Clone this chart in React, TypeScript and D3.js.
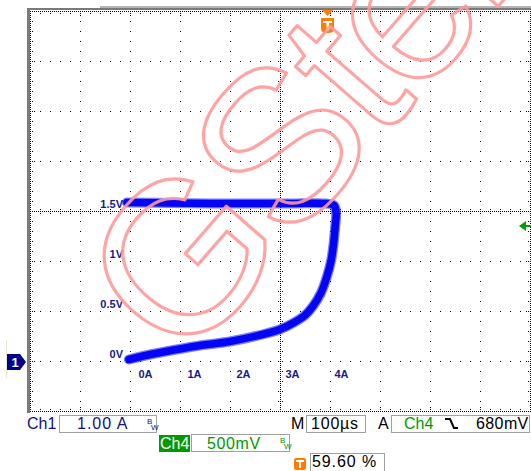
import React from "react";
import * as d3 from "d3";

// XY trace: Ch1 current (A) on X, Ch4 voltage (V) on Y
const currentA = [-0.34, -0.05, 0.36, 1.05, 1.72, 2.34, 2.74, 3.05, 3.26, 3.42, 3.58, 3.70, 3.79, 3.84, 3.87, 3.89, 3.85, 3.68, 2.95, 1.72, 0.50, -0.38];
const voltageV = [0.02, 0.055, 0.095, 0.155, 0.20, 0.265, 0.32, 0.395, 0.465, 0.555, 0.685, 0.845, 1.015, 1.185, 1.345, 1.485, 1.56, 1.58, 1.58, 1.58, 1.585, 1.59];

const xTickValues = [0, 1, 2, 3, 4];
const xTickLabels = ["0A", "1A", "2A", "3A", "4A"];
const yTickValues = [0, 0.5, 1, 1.5];
const yTickLabels = ["0V", "0.5V", "1V", "1.5V"];

const ch1Label = "Ch1";
const ch1Scale = "1.00 A";
const ch4Label = "Ch4";
const ch4Scale = "500mV";
const timeLabel = "M";
const timeScale = "100µs";
const trigLabel = "A";
const trigSource = "Ch4";
const trigLevel = "680mV";
const trigPos = "59.60 %";
const watermark = "GStek";

const W = 531, H = 471;
const FONT = "'Liberation Sans', Arial, sans-serif";

export default function App() {
  const gx = d3.scaleLinear().domain([0, 10]).range([30, 530]);
  const gy = d3.scaleLinear().domain([0, 8]).range([11, 411]);
  const xA = d3.scaleLinear().domain([0, 4]).range([145.5, 341.5]);
  const yV = d3.scaleLinear().domain([0, 1.5]).range([361.5, 211.5]);

  const pts: [number, number][] = currentA.map((a, i) => [a, voltageV[i]]);
  const line = d3.line<[number, number]>().x(d => xA(d[0])).y(d => yV(d[1])).curve(d3.curveCatmullRom.alpha(0.5));
  const pathD = line(pts) || "";

  const majorX = d3.range(1, 10).filter(i => i !== 5).map(i => gx(i));
  const majorY = d3.range(1, 8).filter(i => i !== 4).map(i => gy(i));
  const cx = gx(5), cy = gy(4);
  const top = gy(0), bottom = gy(8), left = gx(0), right = gx(10);

  const dot = (x: number, y: number, k: string) => <rect key={k} x={x} y={y} width={1} height={1} fill="#000" />;
  const extraDots: React.ReactNode[] = [];
  d3.range(1, 10).forEach(i => {
    const x = gx(i);
    extraDots.push(dot(x, top + 2, `t2${i}`), dot(x, top + 4, `t4${i}`), dot(x, bottom - 2, `b2${i}`), dot(x, bottom - 4, `b4${i}`));
  });
  d3.range(1, 8).forEach(j => {
    const y = gy(j);
    extraDots.push(dot(left + 2, y, `l2${j}`), dot(left + 4, y, `l4${j}`), dot(right - 2, y, `r2${j}`), dot(right - 4, y, `r4${j}`));
  });

  const dl = (x1: number, y1: number, x2: number, y2: number, dash: string, k: string) => (
    <line key={k} x1={x1} y1={y1} x2={x2} y2={y2} stroke="#000" strokeWidth={1} strokeDasharray={dash} shapeRendering="crispEdges" />
  );

  const txt = { fontFamily: FONT, fontSize: 16 } as const;

  return (
    <svg width={W} height={H} style={{ position: "absolute", left: 0, top: 0, background: "#fff" }}>
      <rect x={0} y={0} width={W} height={H} fill="#fff" />
      {/* frame */}
      <rect x={27} y={8} width={504} height={2} fill="#7a7a7a" />
      <rect x={100} y={6} width={431} height={2} fill="#b4b4b4" />
      <rect x={27} y={8} width={3} height={405} fill="#7a7a7a" />
      {/* grid */}
      <g>
        {majorX.map((x, i) => dl(x + 0.5, top, x + 0.5, bottom + 1, "1 9", `mx${i}`))}
        {majorY.map((y, i) => dl(left, y + 0.5, right + 1, y + 0.5, "1 9", `my${i}`))}
        {dl(cx + 0.5, top, cx + 0.5, bottom + 1, "1 1", "cv")}
        {dl(cx - 1.5, top, cx - 1.5, bottom + 1, "1 9", "cvl")}
        {dl(cx + 2.5, top, cx + 2.5, bottom + 1, "1 9", "cvr")}
        {dl(left, cy + 0.5, right + 1, cy + 0.5, "1 1", "ch")}
        {dl(left, cy - 1.5, right + 1, cy - 1.5, "1 9", "cht")}
        {dl(left, cy + 2.5, right + 1, cy + 2.5, "1 9", "chb")}
        {dl(left, top + 0.5, right + 1, top + 0.5, "1 1", "bt")}
        {dl(left, top + 2.5, right + 1, top + 2.5, "1 9", "btt")}
        {dl(left, bottom + 0.5, right + 1, bottom + 0.5, "1 1", "bb")}
        {dl(left, bottom - 1.5, right + 1, bottom - 1.5, "1 9", "bbt")}
        {dl(left + 0.5, top, left + 0.5, bottom + 1, "1 1", "bl")}
        {dl(left + 2.5, top, left + 2.5, bottom + 1, "1 9", "blt")}
        {dl(right + 0.5, top, right + 0.5, bottom + 1, "1 1", "br")}
        {dl(right - 1.5, top, right - 1.5, bottom + 1, "1 9", "brt")}
        {extraDots}
      </g>
      {/* trace */}
      <path d={pathD} fill="none" stroke="#2a2aff" strokeOpacity={0.6} strokeWidth={10} strokeLinecap="round" strokeLinejoin="round" />
      <path d={pathD} fill="none" stroke="#0505f5" strokeWidth={7.5} strokeLinecap="round" strokeLinejoin="round" />
      {/* annotation labels */}
      {yTickValues.map((v, i) => (
        <text key={`yl${i}`} x={123} y={yV(v) - 4} textAnchor="end" fontFamily={FONT} fontSize={11} fontWeight="bold" fill="#1a1a86">{yTickLabels[i]}</text>
      ))}
      {xTickValues.map((v, i) => (
        <text key={`xl${i}`} x={xA(v)} y={378} textAnchor="middle" fontFamily={FONT} fontSize={11} fontWeight="bold" fill="#1a1a86">{xTickLabels[i]}</text>
      ))}
      {/* trigger marker top */}
      <path d="M322,10 L333,10 L327.5,16 Z" fill="#ff7d00" />
      <path d="M321,18 L334,18 L334,29 Q334,33 327.5,33 Q321,33 321,29 Z" fill="#ff7d00" />
      <rect x={323} y={21} width={9} height={2} fill="#fff" />
      <rect x={326.5} y={21} width={2.5} height={10} fill="#fff" />
      {/* green trigger level arrow */}
      <path d="M519,226 L526,221 L526,231 Z" fill="#00a000" />
      <rect x={525} y={225} width={6} height={2} fill="#00a000" />
      {/* ch1 marker */}
      <rect x={6} y={340} width={1} height={38} fill="#ece4d0" />
      <path d="M7,354 L20,354 L26,362 L20,370 L7,370 Z" fill="#00008e" />
      <text x={15} y={367} textAnchor="middle" fontFamily={FONT} fontSize={13} fontWeight="bold" fill="#fff">1</text>
      {/* status row 1 */}
      <text x={27} y={429} {...txt} fill="#10108a">{ch1Label}</text>
      <rect x={59.5} y={415.5} width={97} height={17} fill="none" stroke="#a0a0a0" />
      <text x={77} y={429} {...txt} letterSpacing={1} fill="#10108a">{ch1Scale}</text>
      <text x={147} y={424} fontFamily={FONT} fontSize={8} fill="#10108a">B</text>
      <text x={151} y={430} fontFamily={FONT} fontSize={8} fill="#10108a">W</text>
      <text x={291} y={429} {...txt} fill="#000">{timeLabel}</text>
      <rect x={306.5} y={415.5} width={59} height={17} fill="none" stroke="#a0a0a0" />
      <text x={311} y={429} {...txt} letterSpacing={0.8} fill="#000">{timeScale}</text>
      <text x={378} y={429} {...txt} fill="#000">{trigLabel}</text>
      <rect x={391.5} y={415.5} width={138} height={17} fill="none" stroke="#a0a0a0" />
      <text x={404} y={429} {...txt} fill="#009900">{trigSource}</text>
      <path d="M445,419 L450,419 L454,428 L458,428" fill="none" stroke="#000" strokeWidth={2} />
      <text x={476} y={429} {...txt} letterSpacing={0.4} fill="#000">{trigLevel}</text>
      {/* status row 2 */}
      <rect x={159} y={435} width={31} height={17} fill="#009900" />
      <text x={160} y={449} {...txt} fill="#fff">{ch4Label}</text>
      <rect x={191.5} y={434.5} width={98} height={17} fill="none" stroke="#a0a0a0" />
      <text x={207} y={449} {...txt} letterSpacing={0.6} fill="#009900">{ch4Scale}</text>
      <text x={280} y={443} fontFamily={FONT} fontSize={8} fill="#009900">B</text>
      <text x={284} y={449} fontFamily={FONT} fontSize={8} fill="#009900">W</text>
      {/* status row 3 */}
      <rect x={294} y={458} width={12} height={12} rx={2} fill="#ff7d00" />
      <rect x={296} y={460} width={8} height={2} fill="#fff" />
      <rect x={299} y={460} width={2} height={8} fill="#fff" />
      <rect x={310.5} y={453.5} width={74} height={18} fill="none" stroke="#a0a0a0" />
      <text x={312} y={467} {...txt} letterSpacing={0.9} fill="#000">{trigPos}</text>
      {/* watermark */}
      <text x={0} y={0} transform="translate(183,369) rotate(-49)" fontFamily={FONT} fontSize={215} letterSpacing={-6} fill="none" stroke="#ff9a9a" strokeOpacity={0.9} strokeWidth={3.2} strokeLinejoin="round">{watermark}</text>
    </svg>
  );
}
